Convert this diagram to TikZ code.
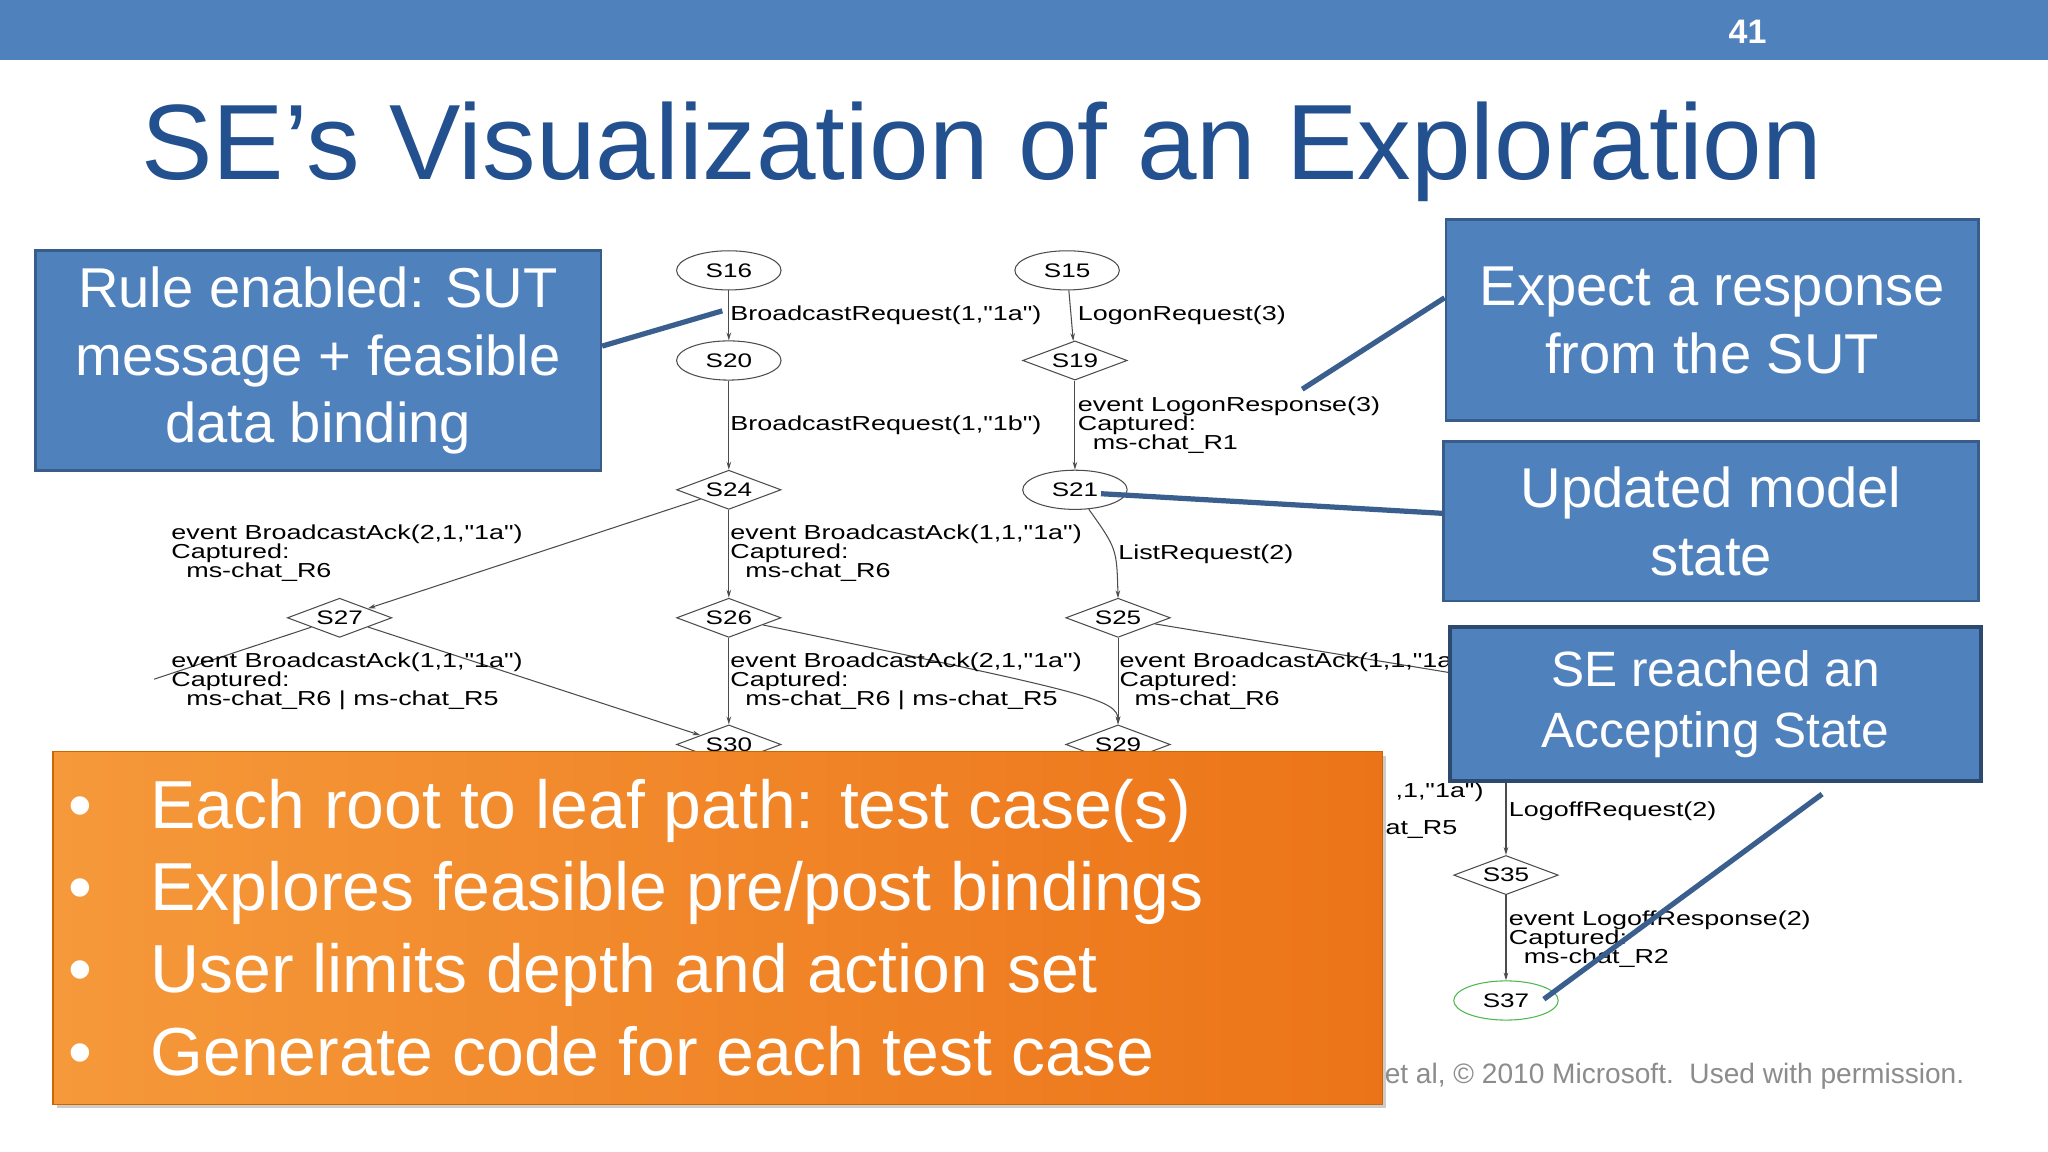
\documentclass[tikz,border=0pt]{standalone}
\usepackage{fontspec}
\setmainfont{Liberation Sans}
\newfontfamily\gfont[FakeStretch=1.33]{Liberation Sans}
\usetikzlibrary{shapes.geometric,arrows.meta,shadows}
\definecolor{sblue}{HTML}{4F81BD}
\definecolor{sdark}{HTML}{385D8A}
\definecolor{tblue}{HTML}{23508F}
\definecolor{callout}{HTML}{3A5F8F}
\definecolor{oleft}{HTML}{F5993A}
\definecolor{oright}{HTML}{EC7418}
\begin{document}
\begin{tikzpicture}[x=1pt,y=-1pt,
 st/.style={ellipse,draw=black!70,line width=0.8pt,minimum width=80pt,minimum height=30pt,inner sep=0pt,font=\gfont\fontsize{15}{16}\selectfont,fill=white},
 dm/.style={diamond,aspect=2.7,draw=black!70,line width=0.8pt,minimum width=80pt,minimum height=30pt,inner sep=0pt,font=\gfont\fontsize{15}{16}\selectfont,fill=white},
 ed/.style={draw=black!70,line width=0.8pt,-{Stealth[length=6pt,width=3.5pt]}},
 lb/.style={font=\gfont\fontsize{15.5}{14.5}\selectfont,align=left,inner sep=0pt,anchor=north west},
 box/.style={fill=sblue,draw=sdark,line width=2pt,text=white,align=center,font=\fontsize{43}{52}\selectfont},
 co/.style={draw=callout,line width=4pt}]
\useasboundingbox (0,0) rectangle (1568,882);
\fill[white] (0,0) rectangle (1568,882);
\fill[sblue] (0,0) rectangle (1568,46);
\node[text=white,font=\bfseries\fontsize{26}{28}\selectfont] (pg) at (1338,24) {41};
\node[anchor=west,text=tblue,font=\fontsize{82}{86}\selectfont,inner sep=0pt] (title) at (108,116) {SE’s Visualization of an Exploration};
% graph
\node[st] (s16) at (558,207) {S16};
\node[st] (s15) at (817,207) {S15};
\node[st] (s20) at (558,276) {S20};
\node[dm] (s19) at (823,276) {S19};
\node[dm] (s24) at (558,375) {S24};
\node[st] (s21) at (823,375) {S21};
\node[dm] (s27) at (260,473) {S27};
\node[dm] (s26) at (558,473) {S26};
\node[dm] (s25) at (856,473) {S25};
\node[dm] (s30) at (558,570) {S30};
\node[dm] (s29) at (856,570) {S29};
\node[dm] (s35) at (1153,670) {S35};
\node[st,draw=green!60!black!70] (s37) at (1153,766) {S37};
\coordinate (l27) at (118,520);
\coordinate (r25) at (1110,515);
\coordinate (t35) at (1153,580);
\draw[ed] (s16) -- (s20);
\draw[ed] (s15) -- (s19);
\draw[ed] (s20) -- (s24);
\draw[ed] (s19) -- (s21);
\draw[ed] (s24) -- (s27);
\draw[ed] (s24) -- (s26);
\draw[ed] (s21) .. controls (855,420) .. (856,458);
\draw[ed] (s26) -- (s30);
\draw[ed] (s27) -- (s30);
\draw[ed] (s26) .. controls (830,530) and (856,535) .. (s29);
\draw[ed] (s25) -- (s29);
\draw[draw=black!70,line width=0.8pt] (s27) -- (l27);
\draw[draw=black!70,line width=0.8pt] (s25) -- (r25);
\draw[ed] (t35) -- (s35);
\draw[ed] (s35) -- (s37);
\node[lb] (e1) at (559,234) {BroadcastRequest(1,"1a")};
\node[lb] (e2) at (825,234) {LogonRequest(3)};
\node[lb] (e3) at (559,318) {BroadcastRequest(1,"1b")};
\node[lb] (e4) at (825,304) {event LogonResponse(3)\\Captured:\\\ \ ms-chat\_R1};
\node[lb] (e5) at (131,402) {event BroadcastAck(2,1,"1a")\\Captured:\\\ \ ms-chat\_R6};
\node[lb] (e6) at (559,402) {event BroadcastAck(1,1,"1a")\\Captured:\\\ \ ms-chat\_R6};
\node[lb] (e7) at (856,417) {ListRequest(2)};
\node[lb] (e8) at (131,500) {event BroadcastAck(1,1,"1a")\\Captured:\\\ \ ms-chat\_R6 | ms-chat\_R5};
\node[lb] (e9) at (559,500) {event BroadcastAck(2,1,"1a")\\Captured:\\\ \ ms-chat\_R6 | ms-chat\_R5};
\node[lb] (e10) at (857,500) {event BroadcastAck(1,1,"1a")\\Captured:\\\ \ ms-chat\_R6};
\node[lb,anchor=north east] (e11) at (1136,599) {,1,"1a")};
\node[lb,anchor=north east] (e11b) at (1116,628) {at\_R5};
\node[lb] (e12) at (1155,614) {LogoffRequest(2)};
\node[lb] (e13) at (1155,697) {event LogoffResponse(2)\\Captured:\\\ \ ms-chat\_R2};
\node[anchor=west,text=black!45,font=\fontsize{21.5}{24}\selectfont,inner sep=0pt] (foot) at (1060,824) {et al, © 2010 Microsoft.\ \ Used with permission.};
% boxes
\node[box,minimum width=433pt,minimum height=168pt] (b1) at (243.5,276) {Rule enabled: SUT\\message + feasible\\data binding};
\node[box,minimum width=408pt,minimum height=154pt] (b2) at (1311,245) {Expect a response\\from the SUT};
\node[box,minimum width=410pt,minimum height=122pt] (b3) at (1310,399) {Updated model\\state};
\node[box,draw=sdark!80!black,line width=3pt,minimum width=407pt,minimum height=118pt,font=\fontsize{38}{47}\selectfont] (b4) at (1313.5,539) {SE reached an\\Accepting State};
\node[anchor=north west,minimum width=1018pt,minimum height=270pt,left color=oleft,right color=oright,draw=orange!80!black,line width=1pt,drop shadow={shadow xshift=3pt,shadow yshift=-3pt,opacity=0.4}] (ob) at (40,575) {};
\node[anchor=west,text=white,align=left,font=\fontsize{52}{63}\selectfont,inner sep=0pt] (bul) at (52,710) {\makebox[63pt][l]{•}Each root to leaf path: test case(s)\\\makebox[63pt][l]{•}Explores feasible pre/post bindings\\\makebox[63pt][l]{•}User limits depth and action set\\\makebox[63pt][l]{•}Generate code for each test case};
% callouts
\coordinate (c1) at (553,238);
\coordinate (c2) at (997,298);
\coordinate (c3) at (843,378);
\coordinate (c4) at (1182,765);
\draw[co] (b1.east|-0,265) -- (c1);
\draw[co] (b2.west|-0,228) -- (c2);
\draw[co] (b3.west|-0,393) -- (c3);
\draw[co] (1395,608) -- (c4);
\end{tikzpicture}
\end{document}
